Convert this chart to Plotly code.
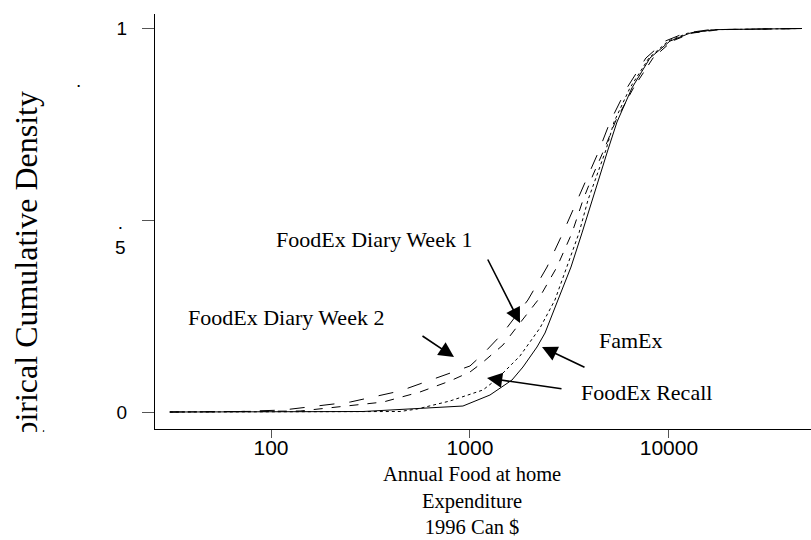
import plotly.graph_objects as go

# ---- data ----
week2_x = [31, 70, 115, 250, 445, 793, 1000, 1162, 1465, 1955, 2439, 2932, 3373, 3920, 4397, 5053, 6150, 7659, 9556, 12030, 16070, 46560]
week2_y = [0, 0.0013, 0.0052, 0.026, 0.0548, 0.1017, 0.120, 0.151, 0.206, 0.292, 0.378, 0.467, 0.540, 0.618, 0.675, 0.756, 0.845, 0.923, 0.967, 0.988, 0.997, 1.0]

week1_x = [31, 140, 366, 561, 793, 1000, 1162, 1465, 1783, 2198, 2736, 3257, 3700, 4151, 4711, 5418, 6669, 8317, 10352, 13050, 18030, 46560]
week1_y = [0, 0.0026, 0.026, 0.0522, 0.0808, 0.1043, 0.130, 0.1747, 0.232, 0.292, 0.378, 0.467, 0.553, 0.618, 0.683, 0.761, 0.847, 0.923, 0.967, 0.988, 0.997, 1.0]

recall_x = [31, 445, 542, 793, 1162, 1367, 1783, 2248, 2673, 3070, 3533, 3920, 4347, 4822, 5292, 6368, 7930, 9897, 12460, 17020, 46560]
recall_y = [0, 0.0013, 0.0078, 0.0287, 0.0574, 0.086, 0.146, 0.219, 0.292, 0.378, 0.467, 0.553, 0.618, 0.683, 0.756, 0.845, 0.923, 0.967, 0.988, 0.997, 1.0]

famex_x = [31, 290, 922, 1260, 1626, 1846, 2172, 2383, 2768, 3219, 3657, 4105, 4500, 4932, 5480, 6518, 8030, 10117, 12760, 17020, 46560]
famex_y = [0, 0.0013, 0.0156, 0.0443, 0.0834, 0.1173, 0.1695, 0.206, 0.292, 0.378, 0.467, 0.553, 0.618, 0.683, 0.756, 0.845, 0.923, 0.967, 0.988, 0.997, 1.0]

x_tick_vals = [100, 1000, 10000]
x_tick_text = ["100", "1000", "10000"]

# ---- layout geometry ----
W, H = 811, 540
L_M, R_M, T_M, B_M = 155, 0, 14, 111
PW, PH = W - L_M - R_M, H - T_M - B_M


def px(x):
    return (x - L_M) / PW


def py(y):
    return (H - B_M - y) / PH


SERIF = "Liberation Serif, Times New Roman, serif"
SANS = "Liberation Sans, Arial, sans-serif"

fig = go.Figure()
fig.add_trace(go.Scatter(x=week2_x, y=week2_y, mode="lines", name="FoodEx Diary Week 2",
                         line=dict(color="black", width=1, dash="longdash")))
fig.add_trace(go.Scatter(x=week1_x, y=week1_y, mode="lines", name="FoodEx Diary Week 1",
                         line=dict(color="black", width=1, dash="dash")))
fig.add_trace(go.Scatter(x=recall_x, y=recall_y, mode="lines", name="FoodEx Recall",
                         line=dict(color="black", width=1, dash="dot")))
fig.add_trace(go.Scatter(x=famex_x, y=famex_y, mode="lines", name="FamEx",
                         line=dict(color="black", width=1)))

ann = []
# series labels
ann.append(dict(text="FoodEx Diary Week 1", x=px(374), y=py(239), xanchor="center", yanchor="middle"))
ann.append(dict(text="FoodEx Diary Week 2", x=px(286), y=py(317), xanchor="center", yanchor="middle"))
ann.append(dict(text="FamEx", x=px(631), y=py(340), xanchor="center", yanchor="middle"))
ann.append(dict(text="FoodEx Recall", x=px(579), y=py(392), xanchor="left", yanchor="middle"))
for a in ann:
    a.update(xref="paper", yref="paper", showarrow=False,
             font=dict(family=SERIF, size=22, color="black"))

# arrows: (tip_x, tip_y, tail_x, tail_y) in pixels
arrows = [(520, 323, 487, 258), (454, 357, 421, 335), (542, 347, 586, 368), (487, 378, 563, 389)]
for tx, ty, sx, sy in arrows:
    ann.append(dict(x=px(tx), y=py(ty), xref="paper", yref="paper", text="",
                    showarrow=True, ax=sx - tx, ay=sy - ty, arrowhead=2,
                    arrowsize=1.9, arrowwidth=1.6, arrowcolor="black"))

# x-axis title
ann.append(dict(text="Annual Food at home<br>Expenditure<br>1996 Can $", x=px(472), y=py(500),
                xref="paper", yref="paper", showarrow=False, xanchor="center", yanchor="middle",
                borderpad=0,
                font=dict(family=SERIF, size=20.5, color="black")))
# y-axis title, clipped at the bottom as in the original
ann.append(dict(text="Empirical Cumulative Density", textangle=-90, x=px(26), y=py(262),
                xref="paper", yref="paper", showarrow=False, xanchor="center", yanchor="middle",
                width=341, height=48, align="right",
                font=dict(family=SERIF, size=32, color="black")))
# stray tick label pieces
ann.append(dict(text=".<br>5", x=px(120), y=py(235), xref="paper", yref="paper", showarrow=False,
                xanchor="center", yanchor="middle", font=dict(family=SANS, size=19, color="black")))
ann.append(dict(text=".", x=px(78), y=py(80), xref="paper", yref="paper", showarrow=False,
                xanchor="center", yanchor="middle", font=dict(family=SANS, size=19, color="black")))

fig.update_layout(
    width=W, height=H,
    margin=dict(l=L_M, r=R_M, t=T_M, b=B_M),
    paper_bgcolor="white", plot_bgcolor="white",
    showlegend=False,
    annotations=ann,
    xaxis=dict(type="log", range=[1.417, 4.714], tickvals=x_tick_vals, ticktext=x_tick_text,
               showline=True, linecolor="black", linewidth=1, mirror=False,
               ticks="outside", ticklen=8, tickcolor="#555", tickwidth=1,
               ticklabelstandoff=-8,
               showgrid=False, zeroline=False,
               tickfont=dict(family=SANS, size=21, color="black")),
    yaxis=dict(range=[-0.0443, 1.0378], tickvals=[0, 0.5, 1], ticktext=["0", "", "1"],
               showline=True, linecolor="black", linewidth=1, mirror=False,
               ticks="outside", ticklen=12, tickcolor="#555", tickwidth=1,
               ticklabelstandoff=11,
               showgrid=False, zeroline=False,
               tickfont=dict(family=SANS, size=19, color="black")),
)

fig.write_html("out.html", config={"displayModeBar": False},
               post_script="document.body.style.margin='0';document.body.style.overflow='hidden';")
